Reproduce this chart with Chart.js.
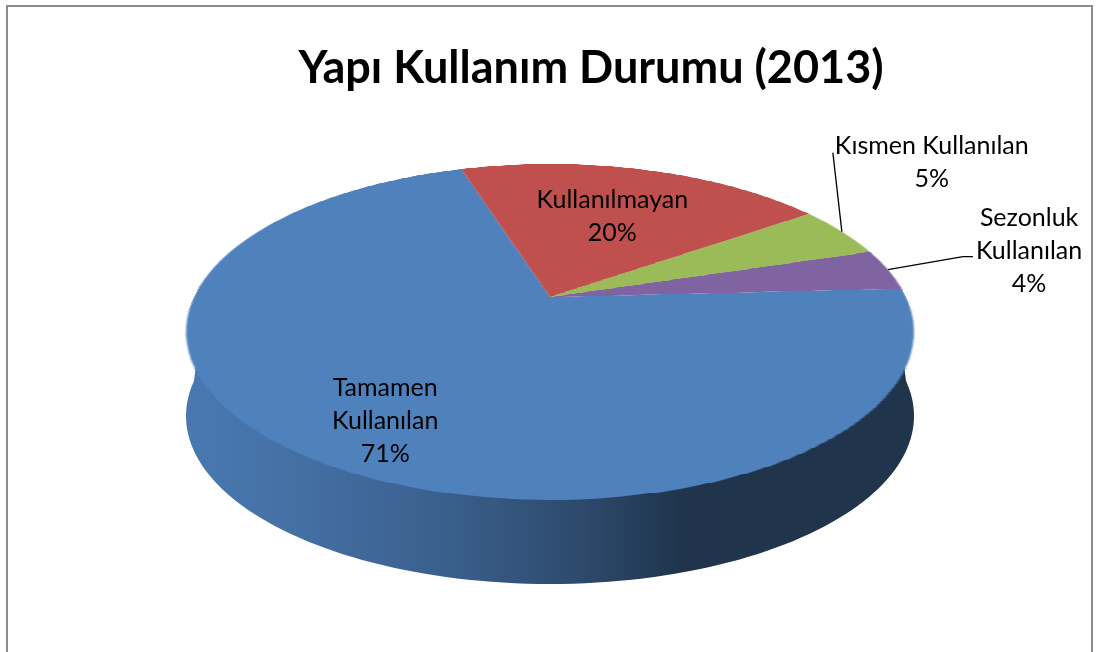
<!DOCTYPE html>
<html>
<head>
<meta charset="utf-8">
<script src="https://cdn.jsdelivr.net/npm/chart.js@4.4.1/dist/chart.umd.min.js"></script>
<style>
  html, body { margin: 0; padding: 0; background: #fff; }
  #cerceve { position: absolute; left: 6px; top: 5px; width: 1087px; height: 700px; border: 2px solid #8c8c8c; box-sizing: border-box; }
  #kap { position: absolute; left: 0; top: 0; width: 1096px; height: 652px; }
</style>
</head>
<body>
<div id="cerceve"></div>
<div id="kap"><canvas id="grafikPasta" width="1096" height="652"></canvas></div>
<script>
// veriler
const kategoriler = ['Tamamen Kullanılan', 'Kullanılmayan', 'Kısmen Kullanılan', 'Sezonluk Kullanılan']
const etiketSatirlari = [['Tamamen', 'Kullanılan'], ['Kullanılmayan'], ['Kısmen Kullanılan'], ['Sezonluk', 'Kullanılan']]
const yuzdeler = [71, 20, 5, 4]
const renkler = ['#4F81BD', '#C0504D', '#9BBB59', '#8064A2']

const yaziTipi = 'Lato, "Open Sans", sans-serif'

// etiket yerlesimi (ic: dilim icinde, dis: kilavuz cizgili)
const etiketDuzeni = [
  { tip: 'ic', oran: 0.75, kay: [10, 10] },
  { tip: 'ic', oran: 0.594, kay: [2, 0] },
  { tip: 'dis', dirsek: [-9, -79], uzanti: 0, metin: [2, 10] },
  { tip: 'dis', dirsek: [75, -13], uzanti: 10, metin: [3, -6] },
]

function karart(hex, k) {
  const n = parseInt(hex.slice(1), 16)
  const r = Math.round(((n >> 16) & 255) * k)
  const g = Math.round(((n >> 8) & 255) * k)
  const b = Math.round((n & 255) * k)
  return `rgb(${r},${g},${b})`
}

// Chart.js'in cizdigi daireyi perspektifli 3B pastaya ceviren eklenti
const pasta3B = {
  id: 'pasta3B',
  afterDatasetsDraw(chart, args, o) {
    const arcs = chart.getDatasetMeta(0).data
    if (!arcs.length) return
    const ctx = chart.ctx
    const dpr = chart.currentDevicePixelRatio
    const { x: cx, y: cy, outerRadius: r } = arcs[0].getProps(['x', 'y', 'outerRadius'], true)

    // dilimleri ayri bir tuvale al
    const boy = Math.ceil(2 * r * dpr)
    const kopya = document.createElement('canvas')
    kopya.width = boy
    kopya.height = boy
    kopya.getContext('2d').drawImage(chart.canvas, (cx - r) * dpr, (cy - r) * dpr, boy, boy, 0, 0, boy, boy)
    ctx.clearRect(cx - r - 2, cy - r - 2, 2 * r + 4, 2 * r + 4)

    // perspektif: v=-1 arka, v=+1 on
    const B = (o.arka - o.on) / (o.arka + o.on)
    const A = o.arka * (1 - B)
    const C = o.yariGenislik * Math.sqrt(1 - B * B)
    const X0 = o.merkezX, Y0 = o.merkezY
    const izdus = (u, v) => {
      const q = 1 + B * v
      return [X0 + C * u / q, Y0 + A * v / q]
    }

    // yan yuzeyler
    arcs.forEach((arc, i) => {
      const { startAngle: s, endAngle: e } = arc.getProps(['startAngle', 'endAngle'], true)
      for (let k = -1; k <= 1; k++) {
        const alt = Math.max(s + k * 2 * Math.PI, 0)
        const ust = Math.min(e + k * 2 * Math.PI, Math.PI)
        if (ust <= alt) continue
        const adim = 120
        const ustNok = [], altNok = []
        for (let j = 0; j <= adim; j++) {
          const a = alt + (ust - alt) * j / adim
          ustNok.push(izdus(0.97 * Math.cos(a), 0.97 * Math.sin(a)))
          const p = izdus(Math.cos(a), Math.sin(a))
          altNok.push([p[0], p[1] + o.derinlik])
        }
        const renk = arc.options.backgroundColor
        const grad = ctx.createLinearGradient(X0 - o.yariGenislik, 0, X0 + o.yariGenislik, 0)
        o.golge.forEach(([t, k2]) => grad.addColorStop(t, karart(renk, k2)))
        ctx.beginPath()
        ustNok.forEach((p, j) => j ? ctx.lineTo(p[0], p[1]) : ctx.moveTo(p[0], p[1]))
        for (let j = altNok.length - 1; j >= 0; j--) ctx.lineTo(altNok[j][0], altNok[j][1])
        ctx.closePath()
        ctx.fillStyle = grad
        ctx.fill()
      }
    })

    // ust yuzey: satir satir perspektif
    for (let y = Math.floor(Y0 - o.arka); y <= Math.ceil(Y0 + o.on); y++) {
      const t = y + 0.5 - Y0
      const v = t / (A - B * t)
      if (v < -1 || v > 1) continue
      const yarim = C / (1 + B * v)
      const sy = Math.min(boy - 1, Math.max(0, Math.floor((v + 1) / 2 * boy)))
      ctx.drawImage(kopya, 0, sy, boy, 1, X0 - yarim, y, 2 * yarim, 1)
    }

    // etiketler
    ctx.save()
    ctx.font = `${o.etiketBoyu}px ${yaziTipi}`
    ctx.fillStyle = '#000'
    ctx.strokeStyle = '#000'
    ctx.lineWidth = 1.3
    ctx.textBaseline = 'middle'
    ctx.textAlign = 'center'
    const degerler = chart.data.datasets[0].data
    arcs.forEach((arc, i) => {
      const d = etiketDuzeni[i]
      const { startAngle: s, endAngle: e } = arc.getProps(['startAngle', 'endAngle'], true)
      const m = (s + e) / 2
      const satirlar = etiketSatirlari[i].concat([degerler[i] + '%'])
      const h = o.satirAraligi
      let mx, my
      if (d.tip === 'ic') {
        const p = izdus(d.oran * Math.cos(m), d.oran * Math.sin(m))
        mx = p[0] + d.kay[0]
        my = p[1] + d.kay[1]
      } else {
        const p = izdus(Math.cos(m), Math.sin(m))
        const dx = p[0] + d.dirsek[0], dy = p[1] + d.dirsek[1]
        ctx.beginPath()
        ctx.moveTo(p[0], p[1])
        ctx.lineTo(dx, dy)
        ctx.lineTo(dx + d.uzanti, dy)
        ctx.stroke()
        const gen = Math.max(...satirlar.map(sat => ctx.measureText(sat).width))
        mx = dx + d.uzanti + d.metin[0] + gen / 2
        my = dy + d.metin[1]
      }
      satirlar.forEach((sat, j) => {
        ctx.fillText(sat, mx, my + (j - (satirlar.length - 1) / 2) * h)
      })
    })
    ctx.restore()
  }
}

new Chart(document.getElementById('grafikPasta'), {
  type: 'pie',
  data: {
    labels: kategoriler,
    datasets: [{
      data: yuzdeler,
      backgroundColor: renkler,
      borderWidth: 0,
    }],
  },
  options: {
    responsive: false,
    animation: false,
    rotation: 87,
    layout: { padding: { left: 86 } },
    plugins: {
      legend: { display: false },
      tooltip: { enabled: false },
      title: {
        display: true,
        text: 'Yapı Kullanım Durumu (2013)',
        color: '#000',
        font: { family: yaziTipi, size: 45, weight: 'bold' },
        padding: { top: 41, bottom: 10 },
      },
      pasta3B: {
        merkezX: 550,
        merkezY: 297,
        yariGenislik: 364,
        arka: 133,
        on: 203,
        derinlik: 84,
        golge: [[0, 0.93], [0.16, 0.86], [0.36, 0.74], [0.53, 0.58], [0.68, 0.41], [1, 0.40]],
        etiketBoyu: 25,
        satirAraligi: 33,
      },
    },
  },
  plugins: [pasta3B],
})
</script>
</body>
</html>
